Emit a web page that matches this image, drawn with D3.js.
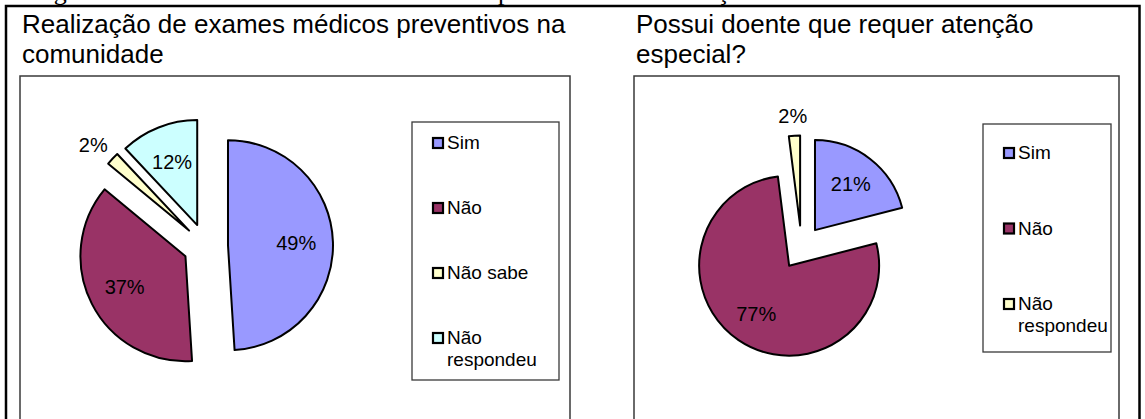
<!DOCTYPE html>
<html><head><meta charset="utf-8">
<script src="https://cdn.jsdelivr.net/npm/d3@7/dist/d3.min.js"></script>
<style>html,body{margin:0;padding:0;background:#fff;}svg{display:block;}</style>
</head><body>
<svg id="c" width="1145" height="419"></svg>
<script>
// ---- data ----
const categories1 = ["Sim", "Não", "Não sabe", "Não respondeu"];
const values1 = [49, 37, 2, 12];
const colors1 = ["#9999FF", "#993366", "#FFFFCC", "#CCFFFF"];
const title1 = ["Realização de exames médicos preventivos na", "comunidade"];

const categories2 = ["Sim", "Não", "Não respondeu"];
const values2 = [21, 77, 2];
const colors2 = ["#9999FF", "#993366", "#FFFFCC"];
const title2 = ["Possui doente que requer atenção", "especial?"];

const captionParts = ["Figura", "p", "ção"];

// ---- layout ----
const svg = d3.select("#c");
const W = 1145, H = 419;

// cut-off caption above the frame (only descenders visible, as in the reference)
const capX = [32, 498, 717];
captionParts.forEach((t, i) => {
  svg.append("text").attr("x", capX[i]).attr("y", 0)
    .attr("font-family", "'Liberation Serif', 'Times New Roman', serif")
    .attr("font-size", 26).attr("fill", "#000").text(t);
});

// outer frame
svg.append("path")
  .attr("d", `M6,${H + 5} V6 H1139.5 V${H + 5}`)
  .attr("fill", "none").attr("stroke", "#000").attr("stroke-width", 2.5);

const charts = [
  {cats: categories1, vals: values1, cols: colors1, title: title1,
   plot: {x0: 20, x1: 570, y0: 76},
   pie: {cx: 205.5, cy: 246, r: 105, explode: 22.5},
   legend: {x: 412, y: 122, w: 147, h: 258, first: 16, gap: 65}},
  {cats: categories2, vals: values2, cols: colors2, title: title2,
   plot: {x0: 634, x1: 1119, y0: 76},
   pie: {cx: 801.5, cy: 247.5, r: 90, explode: 22},
   legend: {x: 983, y: 124, w: 128, h: 228, first: 24, gap: 75.5}}
];

const font = "'Liberation Sans', Arial, sans-serif";

charts.forEach(ch => {
  const g = svg.append("g");
  // plot rectangle (open at bottom, runs past the picture)
  g.append("path")
    .attr("d", `M${ch.plot.x0},${H + 5} V${ch.plot.y0} H${ch.plot.x1} V${H + 5}`)
    .attr("fill", "none").attr("stroke", "#3a3a3a").attr("stroke-width", 1.5);

  // title
  ch.title.forEach((t, i) => {
    g.append("text").attr("x", ch.plot.x0 + 2).attr("y", 33 + i * 30)
      .attr("font-family", font).attr("font-size", 26).attr("fill", "#000").text(t);
  });

  // pie
  const total = d3.sum(ch.vals);
  const pie = d3.pie().sort(null).value(d => d).startAngle(0).endAngle(2 * Math.PI);
  const arcs = pie(ch.vals);
  const arc = d3.arc().innerRadius(0).outerRadius(ch.pie.r);
  const color = d3.scaleOrdinal().domain(ch.cats).range(ch.cols);

  arcs.forEach((a, i) => {
    const mid = (a.startAngle + a.endAngle) / 2;
    const dx = Math.sin(mid), dy = -Math.cos(mid);
    const ax = ch.pie.cx + dx * ch.pie.explode, ay = ch.pie.cy + dy * ch.pie.explode;
    g.append("path")
      .attr("transform", `translate(${ax},${ay})`)
      .attr("d", arc(a))
      .attr("fill", color(ch.cats[i]))
      .attr("stroke", "#000").attr("stroke-width", 2).attr("stroke-linejoin", "round");

    const pct = Math.round(a.value / total * 100) + "%";
    let lx, ly;
    if (a.value / total < 0.05) {
      const halfW = 14.5, halfH = 7.5;
      lx = ax + dx * (ch.pie.r + 12) + dx * halfW;
      ly = ay + dy * (ch.pie.r + 12) + dy * halfH;
    } else {
      lx = ax + dx * ch.pie.r * 0.65;
      ly = ay + dy * ch.pie.r * 0.65;
    }
    g.append("text").attr("x", lx).attr("y", ly + 7)
      .attr("text-anchor", "middle")
      .attr("font-family", font).attr("font-size", 20).attr("fill", "#000").text(pct);
  });

  // legend
  const L = ch.legend;
  g.append("rect").attr("x", L.x).attr("y", L.y).attr("width", L.w).attr("height", L.h)
    .attr("fill", "#fff").attr("stroke", "#3a3a3a").attr("stroke-width", 1.3);
  ch.cats.forEach((c, i) => {
    const top = L.y + L.first + i * L.gap;
    g.append("rect").attr("x", L.x + 21).attr("y", top).attr("width", 10).attr("height", 10)
      .attr("fill", color(c)).attr("stroke", "#000").attr("stroke-width", 2.2);
    const words = c.startsWith("Não ") && c !== "Não sabe" ? ["Não", c.slice(4)] : [c];
    words.forEach((w, j) => {
      g.append("text").attr("x", L.x + 35).attr("y", top + 11 + j * 22)
        .attr("font-family", font).attr("font-size", 19).attr("fill", "#000").text(w);
    });
  });
});
</script>
</body></html>
